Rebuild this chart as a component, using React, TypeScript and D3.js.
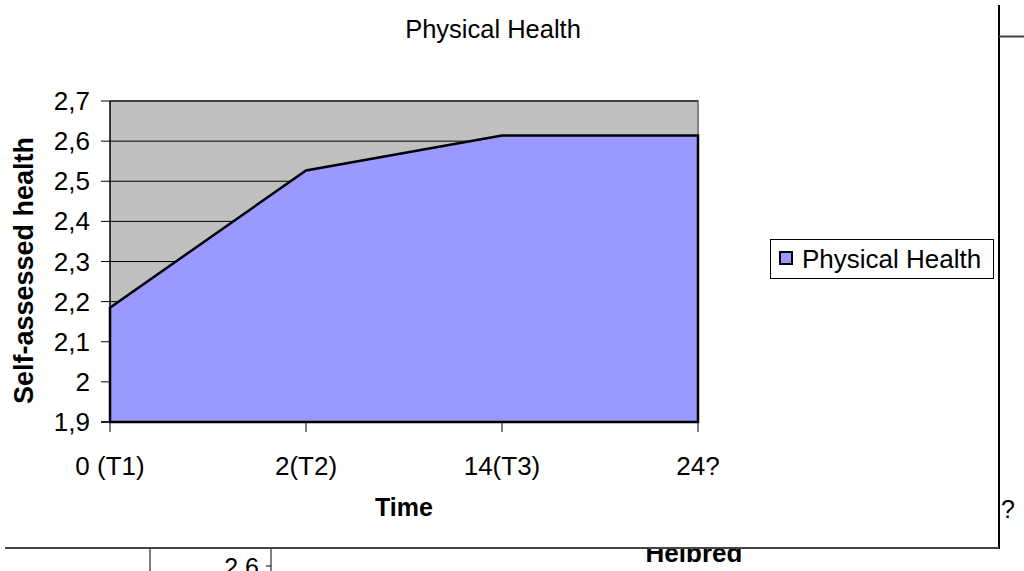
import React from "react";
import * as d3 from "d3";

const title = "Physical Health";
const categories = ["0 (T1)", "2(T2)", "14(T3)", "24?"];
const values = [2.185, 2.527, 2.614, 2.614];
const seriesName = "Physical Health";
const yDomain = [1.9, 2.7];
const yTickStep = 0.1;
const yAxisTitle = "Self-assessed health";
const xAxisTitle = "Time";

const W = 1024;
const H = 571;
const FONT = "'Liberation Sans', Arial, sans-serif";

export default function App() {
  const left = 110, right = 698, top = 101, bottom = 422;
  const x = d3.scalePoint<string>().domain(categories).range([left, right]).padding(0);
  const y = d3.scaleLinear().domain(yDomain).range([bottom, top]);
  const yTicks = d3.range(0, Math.round((yDomain[1] - yDomain[0]) / yTickStep) + 1).map(
    (i) => +(yDomain[0] + i * yTickStep).toFixed(1)
  );
  const loc = d3.formatLocale({ decimal: ",", thousands: ".", grouping: [3], currency: ["", ""] });
  const fmt = loc.format(".1~f");

  const pts = categories.map((c, i) => ({ c, v: values[i] }));
  const area = d3
    .area<{ c: string; v: number }>()
    .x((d) => x(d.c)!)
    .y0(bottom)
    .y1((d) => y(d.v));
  const areaPath = area(pts)! + "";
  const outline =
    d3.line<[number, number]>()([
      [x(categories[0])!, bottom],
      ...pts.map((d) => [x(d.c)!, y(d.v)] as [number, number]),
      [x(categories[categories.length - 1])!, bottom],
    ])! + "Z";

  return (
    <svg
      width={W}
      height={H}
      style={{ position: "absolute", left: 0, top: 0, background: "#fff" }}
      fontFamily={FONT}
    >
      <text x={493} y={38} textAnchor="middle" fontSize={25.5} fill="#000">
        {title}
      </text>

      <rect x={left} y={top} width={right - left} height={bottom - top} fill="#C0C0C0" />
      <path d={`M${left},${top}H${right}V${bottom}`} fill="none" stroke="#808080" strokeWidth={2} />
      {yTicks.map((t) => (
        <line key={"g" + t} x1={left} x2={right} y1={y(t)} y2={y(t)} stroke="#000" strokeWidth={1} />
      ))}
      <path d={areaPath} fill="#9999FF" stroke="none" />
      <path d={outline} fill="none" stroke="#000" strokeWidth={2.5} strokeLinejoin="miter" />

      <line x1={left} x2={left} y1={top} y2={bottom} stroke="#000" strokeWidth={1.5} />
      {yTicks.map((t) => (
        <g key={"yt" + t}>
          <line x1={left - 9} x2={left} y1={y(t)} y2={y(t)} stroke="#000" strokeWidth={1} />
          <text x={90} y={y(t) + 9} textAnchor="end" fontSize={26} fill="#000">
            {fmt(t)}
          </text>
        </g>
      ))}
      <line x1={left - 9} x2={right} y1={bottom} y2={bottom} stroke="#000" strokeWidth={1.5} />
      {categories.map((c) => (
        <g key={"xt" + c}>
          <line x1={x(c)!} x2={x(c)!} y1={bottom} y2={bottom + 10} stroke="#000" strokeWidth={1} />
          <text x={x(c)!} y={475} textAnchor="middle" fontSize={26} fill="#000">
            {c}
          </text>
        </g>
      ))}

      <text
        transform={`translate(33,${(top + bottom) / 2 + 9}) rotate(-90)`}
        textAnchor="middle"
        fontSize={27}
        fontWeight="bold"
        fill="#000"
      >
        {yAxisTitle}
      </text>
      <text x={404} y={516} textAnchor="middle" fontSize={25} fontWeight="bold" fill="#000">
        {xAxisTitle}
      </text>

      <rect x={770.5} y={239.5} width={223} height={39} fill="#fff" stroke="#000" strokeWidth={1} />
      <rect x={780} y={252} width={12} height={12} fill="#9999FF" stroke="#000" strokeWidth={2} />
      <text x={802} y={268} fontSize={26} fill="#000">
        {seriesName}
      </text>

      <line x1={999} x2={999} y1={5} y2={549} stroke="#000" strokeWidth={2} />
      <line x1={999} x2={1024} y1={36.5} y2={36.5} stroke="#444" strokeWidth={2} />
      <line x1={5} x2={999} y1={548} y2={548} stroke="#444" strokeWidth={2} />
      <text x={1001} y={518} fontSize={25} fill="#000">?</text>

      <defs>
        <clipPath id="below">
          <rect x={0} y={549} width={W} height={H - 549} />
        </clipPath>
      </defs>
      <g clipPath="url(#below)">
        <line x1={150} x2={150} y1={549} y2={H} stroke="#000" strokeWidth={1} />
        <line x1={271} x2={271} y1={549} y2={H} stroke="#000" strokeWidth={1} />
        <line x1={266} x2={271} y1={566} y2={566} stroke="#000" strokeWidth={1} />
        <text x={259} y={576} textAnchor="end" fontSize={25} fill="#000">2,6</text>
        <text x={694} y={562} textAnchor="middle" fontSize={26} fontWeight="bold" fill="#000">Helbred</text>
      </g>
    </svg>
  );
}
